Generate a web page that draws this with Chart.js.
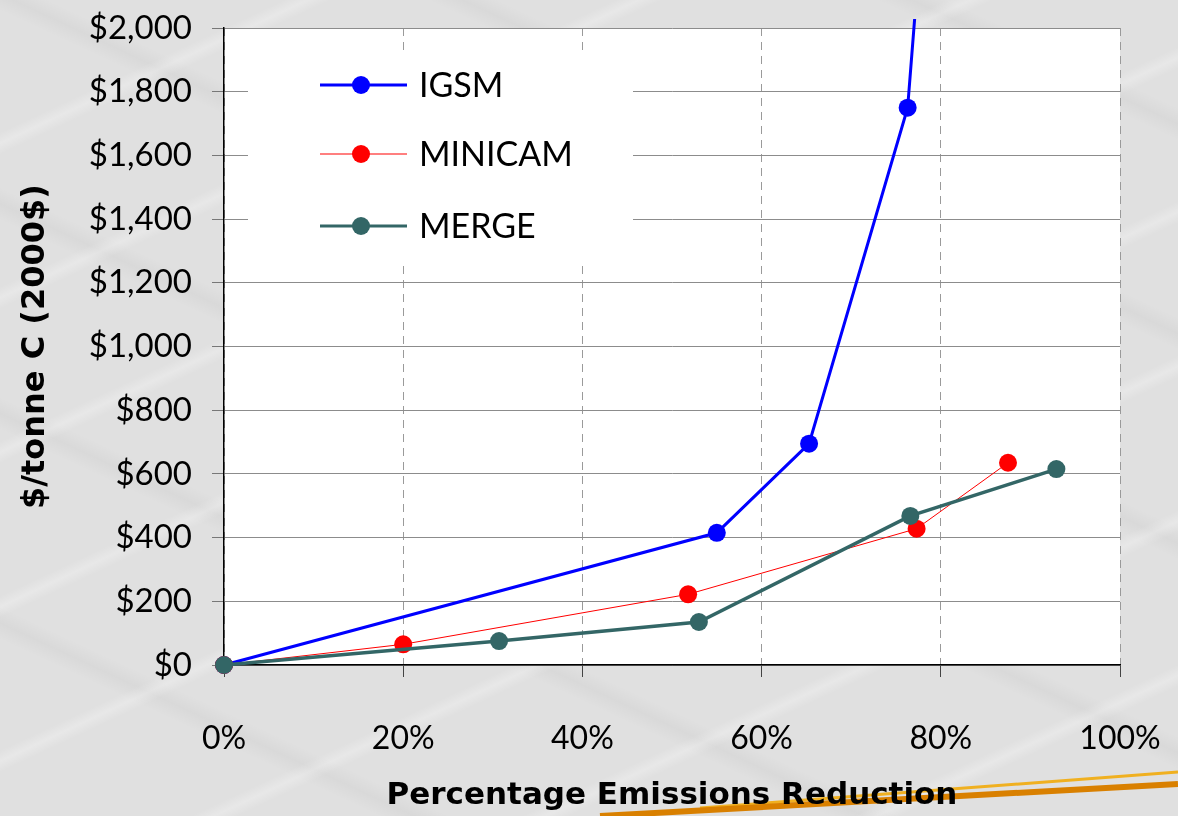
<!DOCTYPE html>
<html><head><meta charset="utf-8">
<script src="https://cdn.jsdelivr.net/npm/chart.js@4"></script>
<style>
html,body{margin:0;padding:0;width:1178px;height:816px;overflow:hidden;}
body{background:#e1e1e1;}
#wrap{position:relative;width:1178px;height:816px;
 background:
  repeating-linear-gradient(155deg, rgba(255,255,255,0) 0px, rgba(255,255,255,0) 120px, rgba(255,255,255,0.25) 130px, rgba(255,255,255,0) 140px),
  repeating-linear-gradient(25deg, rgba(0,0,0,0) 0px, rgba(0,0,0,0) 160px, rgba(0,0,0,0.03) 175px, rgba(0,0,0,0) 190px),
  #e0e0e0;}
svg,canvas{position:absolute;left:0;top:0;}
</style></head>
<body><div id="wrap">
<svg width="1178" height="816"><path d="M700 808 Q 950 790 1178 772" stroke="#f0b020" stroke-width="3" fill="none"/><path d="M600 816 Q 900 800 1178 784" stroke="#d98000" stroke-width="6" fill="none"/></svg>
<canvas id="c" width="1178" height="816"></canvas></div>
<script>
// x tick values (%), y tick step
const xTickValues = [0, 20, 40, 60, 80, 100];
const yMax = 2000;
const seriesNames = ['IGSM', 'MINICAM', 'MERGE'];
// IGSM (last point continues beyond the top of the axis)
const igsmX = [0, 55.0, 65.3, 76.3, 78.4];
const igsmY = [0, 415, 695, 1750, 2500];
// MINICAM
const minicamX = [0, 20.0, 51.8, 77.3, 87.5];
const minicamY = [0, 65, 222, 428, 635];
// MERGE
const mergeX = [0, 30.7, 53.0, 76.6, 92.9];
const mergeY = [0, 75, 135, 468, 615];

const colors = ['#0000ff', '#ff0000', '#336666'];
const widths = [3, 1, 3.5];

function pts(xs, ys){ return xs.map((x,i)=>({x:x, y:ys[i]})); }

const FONT = 'Lato, "Open Sans", sans-serif';
const BFONT = '"DejaVu Sans", "Open Sans", sans-serif';

const bgPlugin = {
  id:'bg',
  beforeDraw(chart){
    const {ctx, chartArea:a} = chart;
    ctx.save(); ctx.fillStyle='#fff';
    ctx.fillRect(a.left, a.top, a.right-a.left, a.bottom-a.top);
    ctx.restore();
  }
};
const legendPlugin = {
  id:'inlegend',
  beforeDatasetsDraw(chart){
    const {ctx, chartArea:a} = chart;
    const L = a.left + 24, T = a.top + 22;
    ctx.save();
    ctx.fillStyle = '#fff';
    ctx.fillRect(L, T, 385, 213);
    const rowY = [35, 104, 176];
    const lw = [3, 1.5, 3];
    const lc = ['#0000ff', '#ff5555', '#336666'];
    seriesNames.forEach((name, i) => {
      const y = T + rowY[i];
      ctx.strokeStyle = lc[i]; ctx.lineWidth = lw[i];
      ctx.beginPath(); ctx.moveTo(L+72, y); ctx.lineTo(L+159, y); ctx.stroke();
      ctx.fillStyle = colors[i];
      ctx.beginPath(); ctx.arc(L+113, y, 9, 0, Math.PI*2); ctx.fill();
      ctx.fillStyle = '#000';
      ctx.font = '34px ' + FONT;
      ctx.textBaseline = 'middle';
      ctx.fillText(name, L+171, y+1);
    });
    ctx.restore();
  }
};

const datasets = [
  {label: seriesNames[0], data: pts(igsmX, igsmY), order: 2, clip:{left:false, top:9, right:false, bottom:false}},
  {label: seriesNames[1], data: pts(minicamX, minicamY), order: 1, clip:false},
  {label: seriesNames[2], data: pts(mergeX, mergeY), order: 0, clip:false}
].map((d,i)=>Object.assign(d, {
  showLine:true, borderColor:colors[i], backgroundColor:colors[i],
  borderWidth:widths[i], pointRadius:9, pointHoverRadius:9,
  pointBorderWidth:0, pointBackgroundColor:colors[i], tension:0
}));

new Chart(document.getElementById('c'), {
  type:'scatter',
  data:{datasets},
  plugins:[bgPlugin, legendPlugin],
  options:{
    responsive:false, animation:false, devicePixelRatio:1,
    layout:{padding:{left:0, top:28, right:58, bottom:0}},
    plugins:{legend:{display:false}, tooltip:{enabled:false}},
    scales:{
      x:{
        type:'linear', min:0, max:100,
        afterBuildTicks(s){ s.ticks = xTickValues.map(v=>({value:v})); },
        afterFit(s){ s.height = 151; s.paddingLeft = 0; s.paddingRight = 0; },
        ticks:{ color:'#000', font:{family:FONT, size:32}, padding:42, maxRotation:0,
          callback:(v)=>v+'%' },
        grid:{ color:'#9a9a9a', lineWidth:1, tickLength:12, tickColor:'#444', tickWidth:1 },
        border:{ display:true, color:'#000', width:1.5, dash:[8,6] },
        title:{ display:true, text:'Percentage Emissions Reduction', color:'#000',
          font:{family:BFONT, size:31, weight:'bold'}, padding:{top:0,bottom:1} }
      },
      y:{
        type:'linear', min:0, max:yMax,
        ticks:{ stepSize:200, color:'#000', font:{family:FONT, size:33}, padding:20,
          callback:(v)=>'$'+v.toLocaleString('en-US') },
        afterFit(s){ s.width = 224; s.paddingTop = 0; s.paddingBottom = 0; },
        grid:{ color:'#8c8c8c', lineWidth:1, tickLength:12, tickColor:'#777' },
        border:{ display:true, color:'#000', width:1.5 },
        title:{ display:true, text:'$/tonne C (2000$)', color:'#000',
          font:{family:BFONT, size:32, weight:'bold'}, padding:{top:16,bottom:0} }
      }
    }
  }
});
</script>
</body></html>
